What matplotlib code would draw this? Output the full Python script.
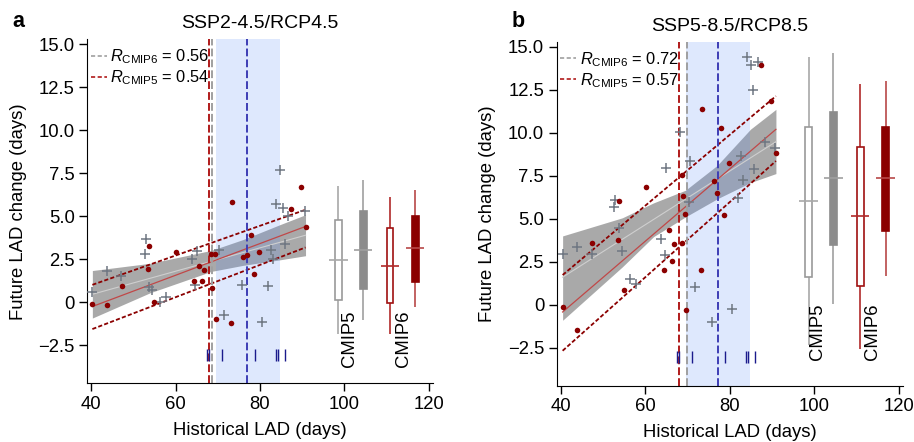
import numpy as np
import matplotlib
matplotlib.use("Agg")
import matplotlib.pyplot as plt
from matplotlib.lines import Line2D

plt.rcParams['font.family'] = ['Liberation Sans', 'DejaVu Sans']
plt.rcParams['mathtext.fontset'] = 'custom'
plt.rcParams['mathtext.rm'] = 'Liberation Sans'
plt.rcParams['mathtext.it'] = 'Liberation Sans:italic'
plt.rcParams['font.size'] = 13.3

# ---- data ----
titles = ['SSP2-4.5/RCP4.5', 'SSP5-8.5/RCP8.5']
panel_tags = ['a', 'b']
r_cmip6 = [0.56, 0.72]
r_cmip5 = [0.54, 0.57]

a_red_x = [40.3, 43.8, 47.4, 53.4, 53.7, 54.8, 60.0, 64.4, 65.6, 66.3, 66.8, 68.3, 68.6,
           69.4, 69.6, 73.1, 73.4, 76.1, 76.9, 77.8, 78.6, 79.7, 87.4, 89.8, 90.8]
a_red_y = [-0.10, -0.16, 0.96, 1.95, 3.29, 0.03, 2.92, 1.25, 2.14, 1.25, 1.87, 2.82, 0.85,
           2.82, -0.97, -1.22, 5.82, 2.61, 2.76, 3.93, 1.62, 2.94, 5.44, 6.73, 4.35]
a_gray_x = [40.3, 43.8, 47.1, 52.7, 52.9, 53.7, 54.5, 56.3, 57.7, 63.8, 64.7, 65.0, 70.3,
            71.6, 75.7, 80.6, 81.9, 82.7, 83.1, 83.9, 84.8, 85.4, 86.0, 86.6, 90.6]
a_gray_y = [0.63, 1.83, 1.51, 2.82, 3.67, 0.89, 0.69, 0.05, 0.29, 2.51, 1.02, 3.00, 3.05,
            -0.72, 1.02, -1.13, 0.93, 3.05, 2.53, 5.73, 7.70, 5.51, 3.40, 4.99, 5.28]

b_red_x = [40.5, 43.9, 47.5, 53.5, 53.8, 55.0, 60.1, 64.5, 65.6, 66.3, 66.9, 68.7, 68.7,
           68.9, 69.5, 69.6, 73.2, 73.5, 76.2, 76.9, 78.0, 78.7, 79.8, 87.4, 89.8, 90.9]
b_red_y = [-0.14, -1.49, 3.60, 3.77, 6.05, 0.87, 6.83, 2.00, 4.34, 2.55, 3.54, 3.60, 7.56,
           6.33, 5.25, -0.32, 2.00, 11.37, 7.18, 6.47, 10.25, 5.20, 8.23, 13.92, 11.83, 8.81]
b_gray_x = [40.5, 43.9, 47.4, 52.7, 52.8, 53.8, 54.6, 56.4, 57.8, 63.7, 64.8, 65.0, 68.3,
            70.3, 70.7, 71.7, 75.7, 80.6, 82.0, 82.7, 83.1, 84.1, 84.9, 85.5, 85.7, 86.6,
            88.3, 90.8]
b_gray_y = [2.96, 3.35, 2.94, 5.70, 6.09, 4.48, 3.11, 1.49, 1.22, 3.83, 2.90, 7.94, 10.06,
            5.98, 8.33, 1.05, -0.98, -0.26, 6.21, 8.62, 7.23, 14.38, 13.90, 12.46, 7.88,
            14.10, 9.44, 9.10]

# regression lines, values at the two ends of the model range
fit_x = [[40.3, 90.8], [40.5, 90.9]]
red_mid = [[-0.24, 4.41], [-0.42, 10.19]]
red_up = [[1.02, 5.38], [1.73, 12.12]]
red_low = [[-1.55, 3.19], [-2.67, 8.35]]
gray_mid = [[0.47, 3.90], [1.60, 9.47]]

# confidence band of the gray fit
band_x = [[40.3, 54.0, 68.5, 76.0, 84.7, 90.8],
          [40.5, 54.6, 62.0, 69.5, 77.0, 84.9, 90.9]]
band_lo = [[-0.91, 0.56, 1.80, 2.15, 2.47, 2.71],
           [-0.90, 2.20, 3.96, 5.10, 6.15, 7.10, 7.62]]
band_hi = [[1.85, 2.27, 3.02, 3.65, 4.51, 5.09],
           [4.00, 5.05, 5.92, 6.65, 8.09, 10.20, 11.35]]

# emergent-constraint vertical lines and observed range
vline_red = [67.9, 67.95]
vline_gray = [68.6, 70.0]
vline_blue = [77.0, 77.1]
obs_span = [(69.5, 84.7), (69.6, 84.7)]
rug_x = [67.5, 67.9, 71.0, 78.8, 83.9, 84.3, 86.0]

# box stats: [low whisker, q1, median, q3, high whisker]
box_pos = [98.6, 104.5, 110.8, 116.8]
a_boxes = [[-1.82, 0.11, 2.47, 4.78, 6.77],
           [-1.05, 0.79, 3.05, 5.28, 7.12],
           [-1.82, -0.04, 2.14, 4.33, 6.11],
           [-0.27, 1.21, 3.13, 5.03, 6.54]]
b_boxes = [[-2.36, 1.60, 6.00, 10.35, 14.38],
           [0.06, 3.50, 7.35, 11.19, 14.61],
           [-2.55, 1.10, 5.15, 9.15, 12.83],
           [1.66, 4.27, 7.35, 10.35, 12.99]]
box_labels = ['CMIP5', 'CMIP6']
label_x = [[101.2, 114.1], [100.8, 113.8]]
label_top = [-0.5, 0.05]

DARKRED = '#8b0000'
GRAYPT = '#6f7782'

fig = plt.figure(figsize=(9.14, 4.42), dpi=100)
axes = [fig.add_axes([87.3 / 914, 1 - 383.3 / 442, 345.7 / 914, 344 / 442]),
        fig.add_axes([556.7 / 914, 1 - 385.7 / 442, 346.6 / 914, 344 / 442])]

panels = [(a_red_x, a_red_y, a_gray_x, a_gray_y, a_boxes),
          (b_red_x, b_red_y, b_gray_x, b_gray_y, b_boxes)]

for i, ax in enumerate(axes):
    rx, ry, gx, gy, boxes = panels[i]

    # gray fit with its confidence band
    ax.fill_between(band_x[i], band_lo[i], band_hi[i], color='#a9a9a9', lw=0, zorder=1)
    ax.plot(fit_x[i], gray_mid[i], color='#cfcfcf', lw=0.8, zorder=2)

    # observed range
    ax.axvspan(*obs_span[i], color='#5b8ef5', alpha=0.2, lw=0, zorder=1.5)

    # red fit and its dashed bounds
    ax.plot(fit_x[i], red_mid[i], color='#c04848', lw=0.9, zorder=2)
    for yy in (red_up[i], red_low[i]):
        ax.plot(fit_x[i], yy, color=DARKRED, lw=1.3, ls=(0, (2.3, 1.2)), zorder=2)

    ax.axvline(vline_red[i], color='#b01a1a', lw=1.4, ls=(0, (4, 1.6)), zorder=2.5)
    ax.axvline(vline_gray[i], color='#a0a0a0', lw=1.4, ls=(0, (4, 1.6)), zorder=2.5)
    ax.axvline(vline_blue[i], color='#3d3db5', lw=1.4, ls=(0, (4, 1.6)), zorder=2.5)
    ax.vlines(rug_x, -3.4, -2.7, color='#1a1a8c', lw=1.0, zorder=3)

    ax.scatter(gx, gy, marker='+', s=55, color=GRAYPT, linewidths=1.1, zorder=3)
    ax.scatter(rx, ry, marker='o', s=16, color=DARKRED, lw=0, zorder=3.5)

    # box plots
    edge = ['#9a9a9a', '#8c8c8c', '#a01010', DARKRED]
    fill = ['white', '#8c8c8c', 'white', DARKRED]
    whisk = ['#a8a8a8', '#a0a0a0', '#b02a2a', '#b84848']
    for j, (lo, q1, med, q3, hi) in enumerate(boxes):
        x0 = box_pos[j]
        ax.vlines(x0, lo, hi, color=whisk[j], lw=1.2, zorder=2)
        ax.bar(x0, q3 - q1, bottom=q1, width=1.6 if j % 2 == 0 else 1.75,
               color=fill[j], edgecolor=edge[j], lw=1.2, zorder=3)
        ax.hlines(med, x0 - 2.15, x0 + 2.15, color=whisk[j], lw=1.2, zorder=4)
    for k, lab in enumerate(box_labels):
        ax.text(label_x[i][k], label_top[i], lab, rotation=90, ha='center', va='top')

    handles = [Line2D([], [], color='#a0a0a0', lw=1.2, ls=(0, (2.5, 1.5))),
               Line2D([], [], color='#b01a1a', lw=1.2, ls=(0, (2.5, 1.5)))]
    ax.legend(handles, [r'$R_{\mathrm{CMIP6}}$ = %.2f' % r_cmip6[i],
                        r'$R_{\mathrm{CMIP5}}$ = %.2f' % r_cmip5[i]],
              loc='upper left', bbox_to_anchor=(0.0, 0.985), frameon=False,
              handlelength=1.0, handletextpad=0.2, labelspacing=0.12,
              borderpad=0.0, borderaxespad=0.2, fontsize=11.8)

    ax.set_xlim(39.1, 121.0)
    ax.set_ylim(-4.7, 15.28)
    ax.set_xticks([40, 60, 80, 100, 120])
    ax.set_yticks([-2.5, 0, 2.5, 5.0, 7.5, 10.0, 12.5, 15.0])
    ax.set_yticklabels(['\u22122.5', '0', '2.5', '5.0', '7.5', '10.0', '12.5', '15.0'])
    for side in ('top', 'right'):
        ax.spines[side].set_visible(False)
    ax.tick_params(direction='out', length=5.5, width=1.0)
    ax.set_xlabel('Historical LAD (days)')
    ax.set_ylabel('Future LAD change (days)')
    ax.xaxis.set_label_coords(0.5, -0.112)
    ax.yaxis.set_label_coords(-0.174, 0.5)
    ax.set_title(titles[i], fontsize=14, pad=8)

fig.text(12.5 / 914, 1 - 21.7 / 442, panel_tags[0], fontsize=15.5, fontweight='bold',
         va='center')
fig.text(512 / 914, 1 - 21.7 / 442, panel_tags[1], fontsize=15.5, fontweight='bold',
         va='center')

fig.savefig('out.png', dpi=100)
